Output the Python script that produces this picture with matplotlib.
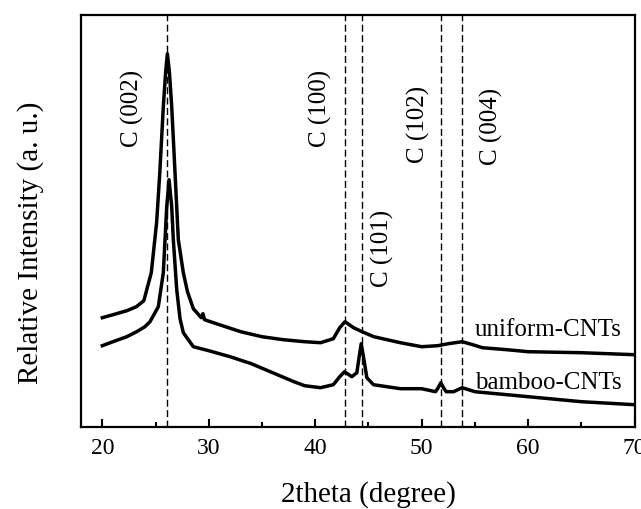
"""
plot.py — XRD patterns of uniform and bamboo CNTs with reflection markers.
"""
import matplotlib
matplotlib.use("Agg")
import matplotlib.pyplot as plt
from matplotlib.ticker import MultipleLocator

plt.rcParams["font.family"] = ["Liberation Serif", "DejaVu Serif"]

# ---- Data (intensity in arbitrary units) ----
uniform_x = [20.0, 21.0, 22.3, 23.2, 23.9, 24.6, 25.1, 25.4, 25.73, 25.95, 26.11, 26.3,
             26.52, 26.83, 27.14, 27.61, 28.0, 28.55, 29.3, 29.45, 29.6, 31.0, 33.0,
             35.0, 37.0, 39.0, 40.5, 41.7, 42.3, 42.8, 43.6, 44.4, 45.5, 48.0, 50.0,
             51.5, 52.5, 53.8, 54.8, 55.7, 58.0, 60.0, 65.0, 70.0]
uniform_y = [109, 112, 116, 120, 126, 154, 204, 254, 320, 355, 373, 355,
             320, 254, 187, 154, 135, 118, 109, 113, 107, 102, 95,
             90, 87, 85, 84, 88, 99, 105, 99, 95, 90, 84, 80,
             81, 83, 85, 82, 79, 77, 75, 74, 72]

bamboo_x = [20.0, 21.0, 22.3, 23.23, 24.0, 24.48, 25.26, 25.73, 25.89, 26.05, 26.27,
            26.52, 26.67, 26.99, 27.3, 27.61, 28.55, 30.0, 32.0, 34.0, 36.0, 38.0,
            39.0, 40.5, 41.7, 42.3, 42.75, 43.44, 43.91, 44.1, 44.32, 44.53, 44.85,
            45.47, 48.0, 50.0, 51.3, 51.55, 51.8, 52.05, 52.3, 53.0, 53.8, 55.0,
            57.0, 60.0, 65.0, 70.0]
bamboo_y = [81, 85, 90, 95, 100, 105, 120, 154, 187, 220, 247,
            220, 187, 137, 108, 94, 80, 76, 70, 63, 54, 45,
            41, 39, 42, 50, 55, 50, 54, 68, 83, 70, 49,
            42, 38, 38, 35, 39, 44, 39, 35, 35, 39, 35,
            33, 30, 25, 22]

peak_pos = [26.1, 42.8, 44.38, 51.8, 53.8]
peak_names = ["C (002)", "C (100)", "C (101)", "C (102)", "C (004)"]
# label anchor (x, y) for each reflection name
label_x = [22.8, 40.5, 46.3, 49.7, 56.6]
label_y = [318, 318, 178, 302, 300]

fig = plt.figure(figsize=(6.41, 5.09), dpi=100)
ax = fig.add_axes([0.1264, 0.1617, 0.8636, 0.8093])

for xp in peak_pos:
    ax.axvline(xp, color="black", lw=1.0, ls=(0, (5, 2.5)), zorder=1)

ax.plot(uniform_x, uniform_y, color="black", lw=2.5, solid_joinstyle="round", zorder=3)
ax.plot(bamboo_x, bamboo_y, color="black", lw=2.5, solid_joinstyle="round", zorder=3)

for name, lx, ly in zip(peak_names, label_x, label_y):
    ax.text(lx, ly, name, rotation=90, ha="center", va="center", fontsize=18)

ax.text(55.0, 97, "uniform-CNTs", ha="left", va="center", fontsize=18)
ax.text(55.0, 44, "bamboo-CNTs", ha="left", va="center", fontsize=18)

ax.set_xlim(18, 70)
ax.set_ylim(0, 412)
ax.xaxis.set_major_locator(MultipleLocator(10))
ax.xaxis.set_minor_locator(MultipleLocator(5))
ax.set_yticks([])
ax.tick_params(axis="x", which="major", direction="in", length=6, width=1.5,
               labelsize=17, pad=8, top=False)
ax.tick_params(axis="x", which="minor", direction="in", length=3.5, width=1.5, top=False)
for spine in ax.spines.values():
    spine.set_linewidth(1.6)

ax.set_xlabel("2theta (degree)", fontsize=21)
ax.set_ylabel("Relative Intensity (a. u.)", fontsize=21)
ax.xaxis.set_label_coords(0.52, -0.133)
ax.yaxis.set_label_coords(-0.067, 0.447)

fig.savefig("out.png", dpi=100)
